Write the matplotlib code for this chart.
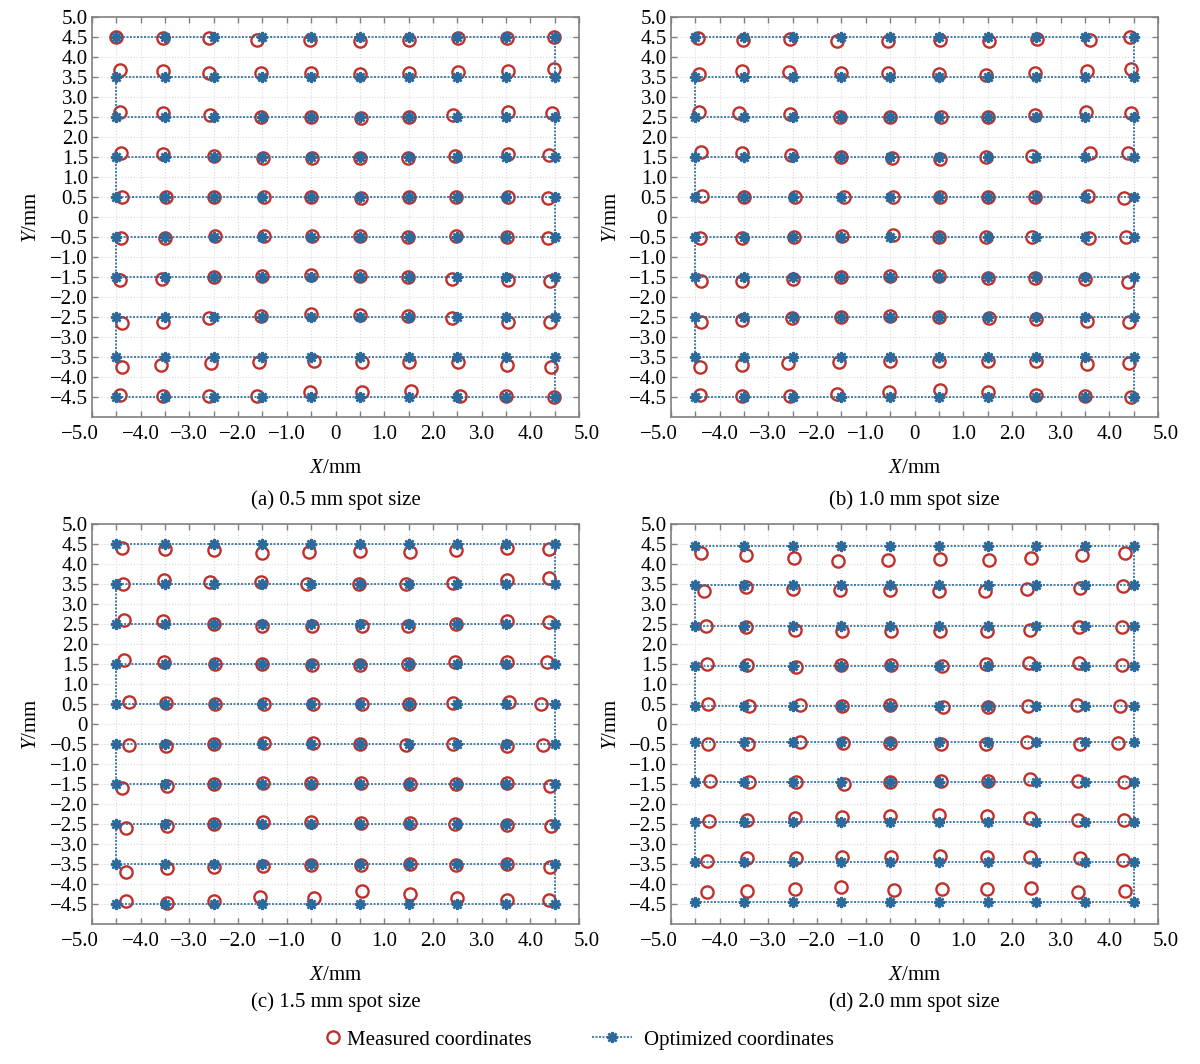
import numpy as np
import matplotlib
matplotlib.use('Agg')
import matplotlib.pyplot as plt
import matplotlib.transforms as mtransforms
from matplotlib.lines import Line2D

plt.rcParams['font.family'] = ['Liberation Serif', 'DejaVu Serif']
plt.rcParams['mathtext.fontset'] = 'custom'
plt.rcParams['mathtext.it'] = 'Liberation Serif:italic'
plt.rcParams['mathtext.rm'] = 'Liberation Serif'

# optimized grid (snake path), shared column positions
opt_cols = [-4.5, -3.5, -2.5, -1.5, -0.5, 0.5, 1.5, 2.5, 3.5, 4.5]
opt_rows_a = [4.5, 3.5, 2.5, 1.5, 0.5, -0.5, -1.5, -2.5, -3.5, -4.5]
opt_rows_b = [4.5, 3.5, 2.5, 1.5, 0.5, -0.5, -1.5, -2.5, -3.5, -4.5]
opt_rows_c = [4.5, 3.5, 2.5, 1.5, 0.5, -0.5, -1.5, -2.5, -3.5, -4.5]
opt_rows_d = [4.45, 3.47, 2.45, 1.46, 0.45, -0.46, -1.46, -2.46, -3.45, -4.46]

# measured coordinates, one list per row (top to bottom), columns left to right
meas_x_a = [
    [-4.50, -3.55, -2.60, -1.62, -0.52, 0.50, 1.50, 2.52, 3.52, 4.48],
    [-4.42, -3.55, -2.60, -1.54, -0.50, 0.50, 1.50, 2.52, 3.55, 4.48],
    [-4.42, -3.55, -2.58, -1.52, -0.50, 0.52, 1.50, 2.42, 3.55, 4.45],
    [-4.41, -3.55, -2.50, -1.48, -0.48, 0.50, 1.48, 2.45, 3.55, 4.38],
    [-4.39, -3.48, -2.50, -1.47, -0.50, 0.52, 1.50, 2.48, 3.55, 4.36],
    [-4.41, -3.50, -2.48, -1.47, -0.48, 0.50, 1.48, 2.48, 3.52, 4.36],
    [-4.42, -3.57, -2.50, -1.50, -0.50, 0.50, 1.48, 2.40, 3.55, 4.40],
    [-4.39, -3.55, -2.60, -1.52, -0.50, 0.50, 1.48, 2.40, 3.55, 4.41],
    [-4.39, -3.58, -2.55, -1.58, -0.45, 0.55, 1.50, 2.52, 3.52, 4.42],
    [-4.42, -3.55, -2.60, -1.62, -0.52, 0.55, 1.55, 2.55, 3.50, 4.48],
]
meas_y_a = [
    [4.50, 4.48, 4.47, 4.43, 4.42, 4.40, 4.42, 4.47, 4.47, 4.50],
    [3.67, 3.66, 3.61, 3.60, 3.60, 3.58, 3.60, 3.62, 3.66, 3.69],
    [2.62, 2.61, 2.55, 2.50, 2.50, 2.48, 2.50, 2.55, 2.62, 2.60],
    [1.61, 1.58, 1.52, 1.48, 1.48, 1.47, 1.48, 1.52, 1.58, 1.55],
    [0.51, 0.50, 0.50, 0.49, 0.50, 0.48, 0.49, 0.50, 0.51, 0.48],
    [-0.53, -0.53, -0.48, -0.47, -0.47, -0.47, -0.50, -0.48, -0.50, -0.52],
    [-1.57, -1.55, -1.50, -1.48, -1.45, -1.47, -1.50, -1.55, -1.57, -1.59],
    [-2.64, -2.62, -2.53, -2.47, -2.43, -2.45, -2.48, -2.53, -2.62, -2.62],
    [-3.76, -3.71, -3.65, -3.62, -3.60, -3.62, -3.62, -3.63, -3.69, -3.76],
    [-4.45, -4.47, -4.47, -4.47, -4.38, -4.38, -4.35, -4.47, -4.47, -4.50],
]

meas_x_b = [
    [-4.44, -3.52, -2.55, -1.60, -0.54, 0.52, 1.54, 2.52, 3.60, 4.42],
    [-4.42, -3.54, -2.57, -1.51, -0.55, 0.50, 1.46, 2.48, 3.55, 4.44],
    [-4.42, -3.60, -2.56, -1.52, -0.50, 0.55, 1.50, 2.48, 3.52, 4.45],
    [-4.38, -3.55, -2.53, -1.50, -0.46, 0.53, 1.46, 2.42, 3.60, 4.39],
    [-4.37, -3.50, -2.46, -1.44, -0.44, 0.52, 1.50, 2.48, 3.56, 4.30],
    [-4.41, -3.55, -2.47, -1.48, -0.45, 0.50, 1.47, 2.42, 3.58, 4.35],
    [-4.38, -3.55, -2.50, -1.50, -0.50, 0.50, 1.50, 2.48, 3.50, 4.38],
    [-4.38, -3.55, -2.52, -1.50, -0.50, 0.50, 1.52, 2.50, 3.55, 4.40],
    [-4.40, -3.55, -2.60, -1.55, -0.50, 0.50, 1.50, 2.50, 3.55, 4.40],
    [-4.40, -3.55, -2.55, -1.60, -0.52, 0.52, 1.50, 2.50, 3.50, 4.45],
]
meas_y_b = [
    [4.47, 4.42, 4.44, 4.40, 4.39, 4.43, 4.39, 4.46, 4.43, 4.50],
    [3.58, 3.66, 3.63, 3.60, 3.60, 3.58, 3.56, 3.60, 3.66, 3.70],
    [2.63, 2.61, 2.57, 2.51, 2.50, 2.49, 2.50, 2.55, 2.63, 2.61],
    [1.63, 1.60, 1.55, 1.49, 1.47, 1.46, 1.49, 1.53, 1.60, 1.59],
    [0.53, 0.49, 0.50, 0.49, 0.49, 0.49, 0.49, 0.50, 0.53, 0.48],
    [-0.52, -0.53, -0.50, -0.47, -0.45, -0.49, -0.49, -0.50, -0.52, -0.51],
    [-1.60, -1.60, -1.55, -1.50, -1.48, -1.48, -1.52, -1.52, -1.55, -1.62],
    [-2.63, -2.58, -2.53, -2.50, -2.48, -2.50, -2.52, -2.55, -2.60, -2.62],
    [-3.75, -3.70, -3.65, -3.62, -3.60, -3.60, -3.60, -3.60, -3.67, -3.65],
    [-4.45, -4.48, -4.48, -4.43, -4.38, -4.33, -4.37, -4.45, -4.48, -4.50],
]

meas_x_c = [
    [-4.38, -3.50, -2.50, -1.50, -0.54, 0.50, 1.52, 2.48, 3.52, 4.38],
    [-4.37, -3.52, -2.57, -1.52, -0.58, 0.48, 1.45, 2.42, 3.52, 4.38],
    [-4.35, -3.54, -2.50, -1.50, -0.48, 0.54, 1.48, 2.48, 3.53, 4.38],
    [-4.34, -3.52, -2.48, -1.50, -0.48, 0.50, 1.48, 2.45, 3.53, 4.35],
    [-4.25, -3.48, -2.48, -1.46, -0.46, 0.54, 1.50, 2.42, 3.56, 4.22],
    [-4.25, -3.48, -2.50, -1.47, -0.46, 0.50, 1.45, 2.42, 3.52, 4.27],
    [-4.38, -3.45, -2.50, -1.48, -0.50, 0.53, 1.52, 2.48, 3.52, 4.40],
    [-4.30, -3.45, -2.50, -1.48, -0.50, 0.53, 1.52, 2.45, 3.52, 4.42],
    [-4.30, -3.47, -2.50, -1.48, -0.50, 0.53, 1.52, 2.48, 3.52, 4.40],
    [-4.30, -3.45, -2.50, -1.55, -0.45, 0.55, 1.52, 2.50, 3.52, 4.38],
]
meas_y_c = [
    [4.39, 4.38, 4.35, 4.27, 4.29, 4.33, 4.29, 4.36, 4.40, 4.38],
    [3.50, 3.60, 3.54, 3.54, 3.51, 3.50, 3.50, 3.52, 3.60, 3.64],
    [2.60, 2.58, 2.50, 2.46, 2.45, 2.44, 2.44, 2.50, 2.58, 2.56],
    [1.60, 1.56, 1.50, 1.50, 1.48, 1.47, 1.50, 1.54, 1.56, 1.55],
    [0.55, 0.53, 0.50, 0.50, 0.50, 0.49, 0.49, 0.52, 0.55, 0.49],
    [-0.52, -0.54, -0.50, -0.47, -0.47, -0.50, -0.52, -0.50, -0.54, -0.52],
    [-1.60, -1.55, -1.50, -1.48, -1.48, -1.48, -1.50, -1.50, -1.48, -1.55],
    [-2.60, -2.55, -2.50, -2.45, -2.45, -2.47, -2.47, -2.50, -2.52, -2.55],
    [-3.70, -3.60, -3.57, -3.55, -3.52, -3.52, -3.50, -3.52, -3.50, -3.57],
    [-4.42, -4.47, -4.42, -4.32, -4.35, -4.18, -4.25, -4.35, -4.40, -4.40],
]

meas_x_d = [
    [-4.38, -3.45, -2.48, -1.58, -0.55, 0.52, 1.52, 2.40, 3.43, 4.33],
    [-4.32, -3.45, -2.50, -1.54, -0.50, 0.50, 1.44, 2.32, 3.39, 4.28],
    [-4.28, -3.46, -2.45, -1.48, -0.49, 0.52, 1.48, 2.37, 3.37, 4.27],
    [-4.27, -3.44, -2.43, -1.50, -0.49, 0.56, 1.46, 2.36, 3.37, 4.27],
    [-4.24, -3.39, -2.36, -1.48, -0.50, 0.59, 1.50, 2.34, 3.34, 4.22],
    [-4.24, -3.41, -2.36, -1.46, -0.50, 0.54, 1.46, 2.30, 3.40, 4.18],
    [-4.20, -3.40, -2.43, -1.45, -0.50, 0.55, 1.50, 2.37, 3.35, 4.30],
    [-4.22, -3.43, -2.45, -1.48, -0.50, 0.50, 1.48, 2.37, 3.35, 4.30],
    [-4.27, -3.43, -2.43, -1.48, -0.48, 0.53, 1.48, 2.38, 3.39, 4.28],
    [-4.27, -3.43, -2.45, -1.50, -0.43, 0.57, 1.48, 2.40, 3.35, 4.32],
]
meas_y_d = [
    [4.28, 4.23, 4.14, 4.07, 4.10, 4.12, 4.10, 4.15, 4.23, 4.28],
    [3.33, 3.42, 3.38, 3.35, 3.35, 3.33, 3.33, 3.37, 3.40, 3.46],
    [2.46, 2.42, 2.36, 2.33, 2.32, 2.32, 2.32, 2.36, 2.43, 2.43],
    [1.50, 1.47, 1.42, 1.47, 1.47, 1.45, 1.50, 1.52, 1.52, 1.47],
    [0.50, 0.46, 0.48, 0.46, 0.48, 0.42, 0.42, 0.44, 0.48, 0.44],
    [-0.50, -0.50, -0.45, -0.48, -0.48, -0.50, -0.50, -0.46, -0.50, -0.48],
    [-1.43, -1.45, -1.45, -1.50, -1.45, -1.43, -1.43, -1.38, -1.43, -1.45],
    [-2.43, -2.40, -2.35, -2.33, -2.30, -2.28, -2.30, -2.35, -2.40, -2.40],
    [-3.43, -3.35, -3.35, -3.33, -3.33, -3.30, -3.33, -3.33, -3.35, -3.40],
    [-4.20, -4.18, -4.13, -4.08, -4.15, -4.13, -4.13, -4.10, -4.20, -4.18],
]

titles = ['(a) 0.5 mm spot size', '(b) 1.0 mm spot size',
          '(c) 1.5 mm spot size', '(d) 2.0 mm spot size']
x_ticks = [-5, -4, -3, -2, -1, 0, 1, 2, 3, 4, 5]
x_ticklabels = ['\u22125.0', '\u22124.0', '\u22123.0', '\u22122.0', '\u22121.0', '0',
                '1.0', '2.0', '3.0', '4.0', '5.0']
y_ticks = [5.0, 4.5, 4.0, 3.5, 3.0, 2.5, 2.0, 1.5, 1.0, 0.5, 0,
           -0.5, -1.0, -1.5, -2.0, -2.5, -3.0, -3.5, -4.0, -4.5]

RED = '#c0302a'
BLUE = '#2b6a9b'
EDGE = '#808080'
FS = 15
LS = (0, (1.2, 0.9))  # fine dotted line


def snake(cols, rows):
    xs, ys = [], []
    for i, yv in enumerate(rows):
        order = cols if i % 2 == 0 else cols[::-1]
        xs += list(order)
        ys += [yv] * len(cols)
    return xs, ys


def ylab(v):
    if v == 0:
        return '0'
    return ('%.1f' % v).replace('-', '\u2212')


W, H = 1200, 1064
fig = plt.figure(figsize=(W / 100, H / 100), dpi=100)

# axes boxes in pixels: left, top
boxes = [(92, 17), (671, 17), (92, 524), (671, 524)]
aw, ah = 487, 400
caption_y = [500, 500, 1002, 1002]

panels = [
    (meas_x_a, meas_y_a, opt_rows_a),
    (meas_x_b, meas_y_b, opt_rows_b),
    (meas_x_c, meas_y_c, opt_rows_c),
    (meas_x_d, meas_y_d, opt_rows_d),
]

for k, (mx, my, orows) in enumerate(panels):
    left, top = boxes[k]
    ax = fig.add_axes([left / W, 1 - (top + ah) / H, aw / W, ah / H])

    ax.plot(np.ravel(mx), np.ravel(my), linestyle='none', marker='o',
            mfc='none', mec=RED, ms=8.8, mew=1.7, zorder=3)
    sx, sy = snake(opt_cols, orows)
    ax.plot(sx, sy, linestyle=LS, color=BLUE, lw=1.2, marker=(8, 2, 0),
            ms=8, mew=1.8, mec=BLUE, zorder=4)

    ax.set_xlim(-5, 5)
    ax.set_ylim(-5, 5)
    ax.set_xticks(x_ticks)
    ax.set_xticklabels(x_ticklabels)
    ax.set_xticks(np.arange(-4.5, 4.6, 1.0), minor=True)
    ax.set_yticks(y_ticks)
    ax.set_yticklabels([ylab(v) for v in y_ticks])
    ax.tick_params(which='both', direction='in', top=True, right=True,
                   length=4, width=1, color=EDGE, labelsize=FS)
    ax.tick_params(axis='x', pad=6)
    ax.tick_params(axis='y', pad=3)
    ax.grid(which='both', color='#dadada', linestyle=':', linewidth=0.8)
    ax.set_axisbelow(True)
    for sp in ax.spines.values():
        sp.set_color(EDGE)
        sp.set_linewidth(1.2)

    # end labels sit a little outside the frame
    xl = ax.get_xticklabels()
    xl[0].set_transform(xl[0].get_transform() +
                        mtransforms.ScaledTranslation(-0.12, 0, fig.dpi_scale_trans))
    xl[-1].set_transform(xl[-1].get_transform() +
                         mtransforms.ScaledTranslation(0.08, 0, fig.dpi_scale_trans))

    ax.set_xlabel('$X$/mm', fontsize=FS)
    ax.xaxis.label.set_va('center')
    ax.xaxis.set_label_coords(0.5, -51 / ah)
    ax.set_ylabel('$Y$/mm', fontsize=FS)
    ax.yaxis.label.set_va('center')
    ax.yaxis.set_label_coords(-60 / aw, 0.5)

    fig.text((left + aw / 2) / W, 1 - caption_y[k] / H, titles[k],
             fontsize=FS, ha='center', va='center')

h1 = Line2D([], [], linestyle='none', marker='o', mfc='none', mec=RED, ms=8.8, mew=1.7)
h2 = Line2D([], [], linestyle=LS, color=BLUE, lw=1.2, marker=(8, 2, 0), ms=8, mew=1.8)
fig.legend([h1], ['Measured coordinates'], loc='center left',
           bbox_to_anchor=(324 / W, 1 - 1040 / H), frameon=False, fontsize=FS,
           handlelength=0.9, handletextpad=0.2, borderpad=0, borderaxespad=0)
fig.legend([h2], ['Optimized coordinates'], loc='center left',
           bbox_to_anchor=(592 / W, 1 - 1040 / H), frameon=False, fontsize=FS,
           handlelength=1.9, handletextpad=0.6, borderpad=0, borderaxespad=0)

fig.savefig('out.png', dpi=100)
